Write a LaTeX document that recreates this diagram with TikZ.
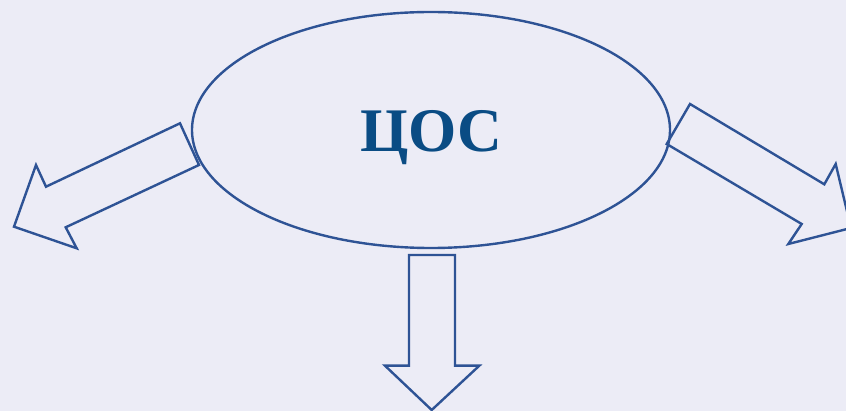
\documentclass[tikz,border=0pt]{standalone}
\usepackage{fontspec}
\setmainfont{Liberation Serif}
\usetikzlibrary{shapes.geometric}
\definecolor{bgc}{HTML}{ECECF6}
\definecolor{linec}{HTML}{2E5395}
\definecolor{textc}{HTML}{0A4C84}
\tikzset{
  outline/.style={draw=linec, line width=2.4pt, line join=miter},
  blockarrow/.style={outline, fill=none}
}
\begin{document}
\begin{tikzpicture}[x=1pt,y=-1pt]
\fill[bgc] (0,0) rectangle (846,411);
\useasboundingbox (0,0) rectangle (846,411);
\begin{scope}
\clip (0,0) rectangle (846,411);
% ellipse
\node[outline, ellipse, minimum width=478pt, minimum height=236pt, inner sep=0pt] (ell) at (431,130) {};
\node[anchor=base, text=textc, font=\bfseries\fontsize{62}{62}\selectfont, inner sep=0pt] (lbl) at (431.5,151.7) {ЦОС};
% left arrow
\draw[blockarrow] (180,123.3) -- (46,186.7) -- (36,165) -- (14,226.7) -- (76.7,248.3) -- (65.7,227.3) -- (199,165) -- cycle;
% right arrow
\draw[blockarrow] (690,104) -- (824.3,184.3) -- (835.7,164) -- (851,228) -- (788.3,244) -- (801.7,224) -- (666.7,144) -- cycle;
% down arrow
\draw[blockarrow] (409,255) -- (455,255) -- (455,365.7) -- (479.3,365.7) -- (431.7,410) -- (385,365.7) -- (409,365.7) -- cycle;
\end{scope}
\end{tikzpicture}
\end{document}
